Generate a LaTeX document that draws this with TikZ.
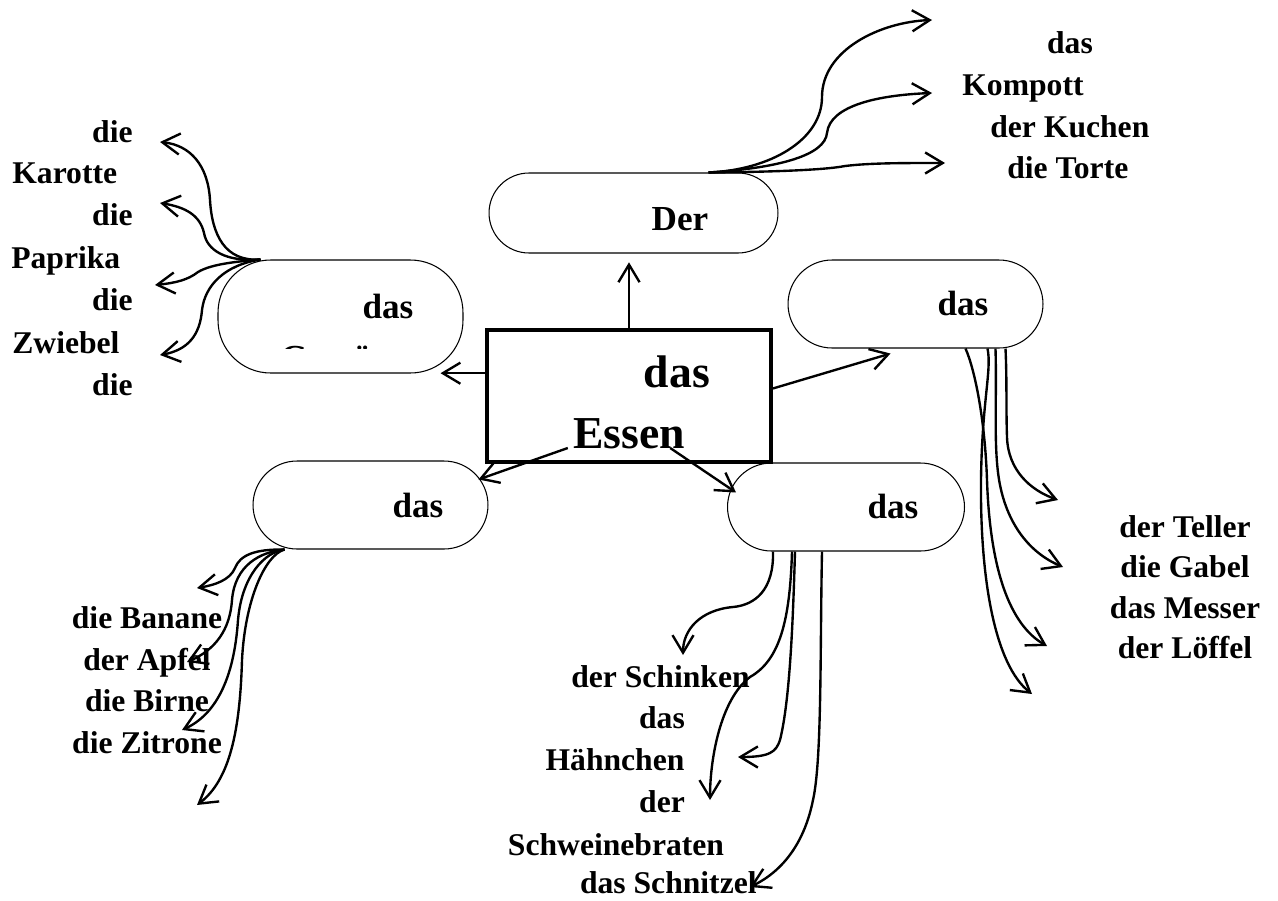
\documentclass[tikz,border=0pt]{standalone}
\usepackage{fontspec}
\setmainfont{Liberation Serif}
\usepackage{tikz}
\usetikzlibrary{arrows.meta,calc}
\tikzstyle{pill} = [rectangle, draw, line width=0.6pt, minimum height=1.76cm, rounded corners=0.88cm]
\tikzstyle{mainbox} = [rectangle, draw, line width=2.3pt, minimum width=5.68cm, minimum height=2.64cm]
\tikzstyle{word} = [inner sep=0pt, anchor=base, font=\fontsize{18}{21}\selectfont\bfseries]
\tikzstyle{boxlabel} = [inner sep=0pt, anchor=base, font=\fontsize{20}{24}\selectfont\bfseries]
\tikzstyle{line} = [line width=1.35pt, ->, >={Straight Barb[length=10pt,width=12pt]}]

\begin{document}
\begin{tikzpicture}[x=0.02cm, y=-0.02cm]
    \useasboundingbox (0,0) rectangle (1278,900);
    % centre
    \node (essen) [mainbox] at (629,396) {};
    \node (essenA) [boxlabel, font=\fontsize{26}{30}\selectfont\bfseries] at (677,387) {das};
    \node (essenB) [boxlabel, font=\fontsize{26}{30}\selectfont\bfseries] at (629,448) {Essen};
    % the five topics
    \node (dessert) [pill, minimum width=5.78cm, minimum height=1.6cm, rounded corners=0.8cm] at (633.5,213) {};
    \node (dessertT) [boxlabel] at (680,230) {Der};
    \node (gemuese) [pill, minimum width=4.9cm, minimum height=2.26cm, rounded corners=1.05cm] at (340.5,316.5) {};
    \node (gemueseT) [boxlabel] at (388,318) {das};
    \begin{scope}
        \clip (218,260) rectangle (463,348.5);
        \node (gemueseU) [boxlabel, anchor=base west] at (280,369) {Gemüse};
    \end{scope}
    \node (geschirr) [pill, minimum width=5.1cm] at (915.5,304) {};
    \node (geschirrT) [boxlabel] at (963,315) {das};
    \node (obst) [pill, minimum width=4.7cm] at (370.5,505) {};
    \node (obstT) [boxlabel] at (418,517) {das};
    \node (fleisch) [pill, minimum width=4.74cm] at (846,507) {};
    \node (fleischT) [boxlabel] at (893,518) {das};

    \draw[line, shorten >=5pt] (essen.north) -- (essen.north |- dessert.south);
    \draw[line] (essen.171) -- ($(essen.171 -| gemuese.east)+(-23,0)$);
    \draw[line] (essen.3) -- ($(geschirr.south)+(-25,5)$);
    \draw[line] ($(essenB.base west)+(-5,0)$) -- ($(obst.north east)+(-10,19)$);
    \draw[line] ($(essenB.base east)+(-15,0)$) -- ($(fleisch.north west)+(9,30)$);

    % Gemuese
    \node (karA) [word, anchor=base east] at (133,142) {die};
    \node (karB) [word, anchor=base west] at (12,183) {Karotte};
    \node (papA) [word, anchor=base east] at (133,225) {die};
    \node (papB) [word, anchor=base west] at (11,268) {Paprika};
    \node (zwiA) [word, anchor=base east] at (133,310) {die};
    \node (zwiB) [word, anchor=base west] at (12,353) {Zwiebel};
    \node (tomA) [word, anchor=base east] at (133,395) {die};
    \coordinate (gfan) at ($(gemuese.north west)+(43,0)$);
    \coordinate (g1) at (160,142);
    \coordinate (g2) at (160,203);
    \coordinate (g3) at (155,285);
    \coordinate (g4) at (160,355);
    \draw[line] (gfan) .. controls (225,262) and (212,235) .. (210,200) .. controls (208,165) and (190,145) .. (g1);
    \draw[line] (gfan) .. controls (225,262) and (207,250) .. (204,233) .. controls (200,215) and (185,207) .. (g2);
    \draw[line] (gfan) .. controls (230,262) and (210,265) .. (198,272) .. controls (188,280) and (175,283) .. (g3);
    \draw[line] (gfan) .. controls (225,265) and (205,285) .. (202,310) .. controls (200,335) and (188,350) .. (g4);

    % Dessert
    \node (kompA) [word] at (1070,53) {das};
    \node (kompB) [word, anchor=base west] at (962,95) {Kompott};
    \node (kuchen) [word, anchor=base west] at (990,137) {der Kuchen};
    \node (torte) [word, anchor=base west] at (1007,178) {die Torte};
    \coordinate (dfan) at ($(dessert.north east)+(-70,0)$);
    \coordinate (d1) at (932,20);
    \coordinate (d2) at (932,93);
    \coordinate (d3) at (945,163);
    \draw[line] (dfan) .. controls (770,170) and (822,140) .. (822,97) .. controls (822,50) and (880,22) .. (d1);
    \draw[line] (dfan) .. controls (780,168) and (825,155) .. (827,133) .. controls (830,105) and (880,95) .. (d2);
    \draw[line] (dfan) .. controls (770,172) and (825,170) .. (845,166) .. controls (870,163) and (900,163) .. (d3);

    % Geschirr
    \node (teller) [word] at (1185,537) {der Teller};
    \node (gabel) [word] at (1185,577) {die Gabel};
    \node (messer) [word] at (1185,618) {das Messer};
    \node (loeffel) [word] at (1185,658) {der Löffel};
    \coordinate (s1) at ($(geschirr.south)+(90,0)$);
    \coordinate (s2) at ($(geschirr.south)+(80,0)$);
    \coordinate (s3) at ($(geschirr.south)+(50,0)$);
    \coordinate (s4) at ($(geschirr.south)+(72,0)$);
    \coordinate (t1) at (1058,500);
    \coordinate (t2) at (1063,567);
    \coordinate (t3) at (1047,646);
    \coordinate (t4) at (1032,694);
    \draw[line] (s1) .. controls (1007,380) and (1006,410) .. (1007,437) .. controls (1008,470) and (1030,490) .. (t1);
    \draw[line] (s2) .. controls (997,400) and (993,450) .. (1000,485) .. controls (1008,525) and (1030,553) .. (t2);
    \draw[line] (s3) .. controls (975,370) and (985,420) .. (987,480) .. controls (990,570) and (1010,625) .. (t3);
    \draw[line] (s4) .. controls (992,370) and (982,400) .. (981,480) .. controls (980,580) and (995,665) .. (t4);

    % Obst
    \node (banane) [word] at (147,628) {die Banane};
    \node (apfel) [word] at (147,670) {der Apfel};
    \node (birne) [word] at (147,711) {die Birne};
    \node (zitrone) [word] at (147,753) {die Zitrone};
    \coordinate (ofan) at ($(obst.south west)+(32,0)$);
    \coordinate (o1) at (197,588);
    \coordinate (o2) at (187,662);
    \coordinate (o3) at (182,730);
    \coordinate (o4) at (197,805);
    \draw[line] (ofan) .. controls (255,549) and (240,555) .. (235,568) .. controls (230,580) and (215,585) .. (o1);
    \draw[line] (ofan) .. controls (260,552) and (235,565) .. (232,600) .. controls (230,630) and (215,650) .. (o2);
    \draw[line] (ofan) .. controls (265,552) and (242,575) .. (238,620) .. controls (234,680) and (215,715) .. (o3);
    \draw[line] (ofan) .. controls (265,555) and (245,600) .. (242,660) .. controls (240,730) and (230,780) .. (o4);

    % Fleisch
    \node (schinken) [word, anchor=base east] at (750,687) {der Schinken};
    \node (haehnA) [word] at (662,728) {das};
    \node (haehnB) [word] at (615,770) {Hähnchen};
    \node (bratenA) [word] at (662,812) {der};
    \node (bratenB) [word] at (616,855) {Schweinebraten};
    \node (schnitzel) [word, anchor=base east] at (757,893) {das Schnitzel};
    \coordinate (r1) at ($(fleisch.south)+(-73,0)$);
    \coordinate (r2) at ($(fleisch.south)+(-51,0)$);
    \coordinate (r3) at ($(fleisch.south)+(-54,0)$);
    \coordinate (r4) at ($(fleisch.south)+(-24,0)$);
    \coordinate (h1) at (683,655);
    \coordinate (h2) at (738,757);
    \coordinate (h3) at (710,800);
    \coordinate (h4) at (750,887);
    \draw[line] (r1) .. controls (774,590) and (755,605) .. (733,607) .. controls (700,610) and (683,630) .. (h1);
    \draw[line] (r2) .. controls (793,620) and (790,700) .. (780,740) .. controls (776,752) and (770,757) .. (h2);
    \draw[line] (r3) .. controls (790,620) and (780,660) .. (750,677) .. controls (720,700) and (710,760) .. (h3);
    \draw[line] (r4) .. controls (820,650) and (822,760) .. (813,800) .. controls (805,840) and (785,870) .. (h4);
\end{tikzpicture}
\end{document}
